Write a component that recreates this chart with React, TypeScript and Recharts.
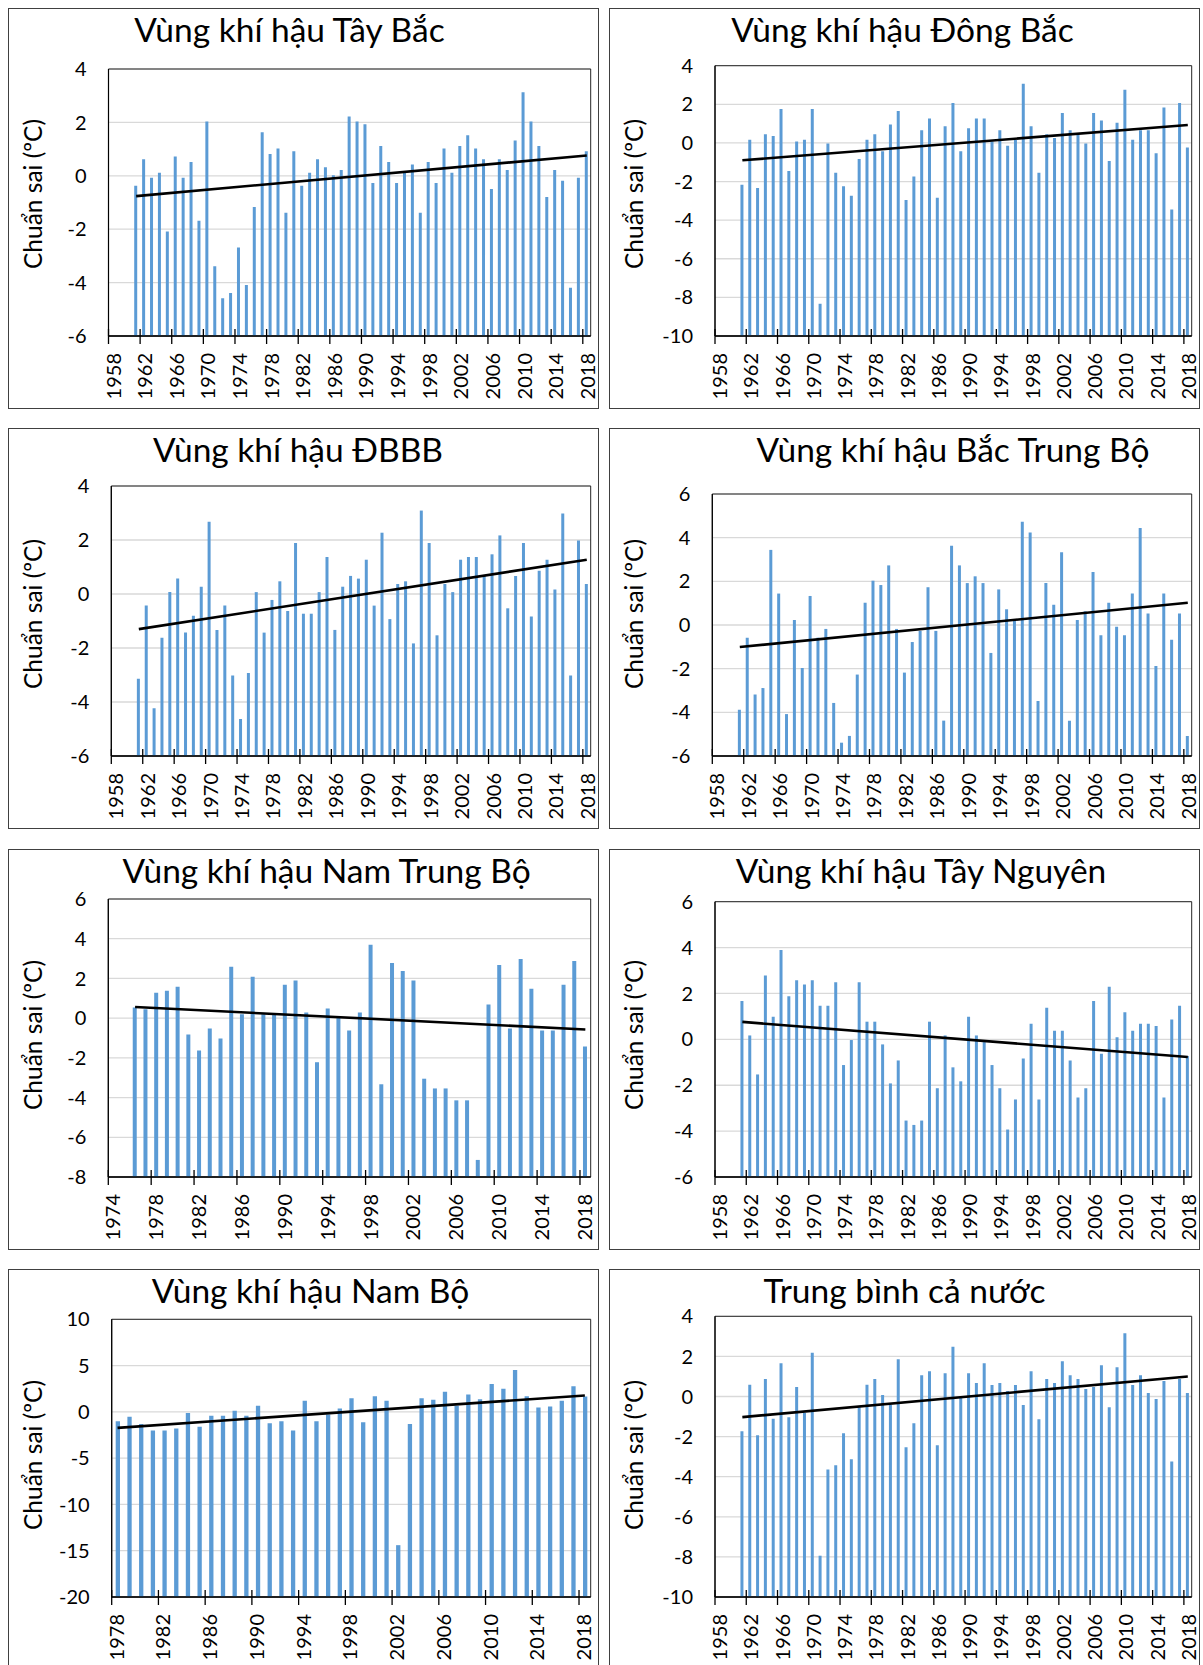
import React from "react";
import {
  ComposedChart,
  Bar,
  Line,
  XAxis,
  YAxis,
  CartesianGrid,
  ReferenceArea,
} from "recharts";

// years (categories)
const years1961 = [
  1961, 1962, 1963, 1964, 1965, 1966, 1967, 1968, 1969, 1970,
  1971, 1972, 1973, 1974, 1975, 1976, 1977, 1978, 1979, 1980,
  1981, 1982, 1983, 1984, 1985, 1986, 1987, 1988, 1989, 1990,
  1991, 1992, 1993, 1994, 1995, 1996, 1997, 1998, 1999, 2000,
  2001, 2002, 2003, 2004, 2005, 2006, 2007, 2008, 2009, 2010,
  2011, 2012, 2013, 2014, 2015, 2016, 2017, 2018,
];
const years1976 = years1961.slice(15);
const years1978 = years1961.slice(17);

// anomaly values (ºC)
const tayBac = [
  -0.37, 0.62, -0.07, 0.11, -2.09, 0.72, -0.07, 0.52, -1.68, 2.03,
  -3.39, -4.59, -4.39, -2.69, -4.09, -1.17, 1.63, 0.82, 1.02, -1.38,
  0.92, -0.37, 0.11, 0.62, 0.32, 0.02, 0.22, 2.22, 2.03, 1.93,
  -0.27, 1.12, 0.52, -0.27, 0.12, 0.42, -1.38, 0.52, -0.27, 1.02,
  0.11, 1.12, 1.52, 1.02, 0.62, -0.49, 0.62, 0.22, 1.32, 3.13,
  2.03, 1.12, -0.79, 0.22, -0.19, -4.19, -0.07, 0.92,
];
const dongBac = [
  -2.16, 0.16, -2.34, 0.45, 0.36, 1.76, -1.45, 0.07, 0.16, 1.76,
  -8.33, -0.03, -1.55, -2.24, -2.74, -0.83, 0.16, 0.45, -0.43, 0.95,
  1.66, -2.95, -1.74, 0.66, 1.26, -2.84, 0.86, 2.07, -0.43, 0.76,
  1.26, 1.26, 0.07, 0.66, -0.14, 0.16, 3.07, 0.86, -1.55, 0.45,
  0.26, 1.55, 0.66, 0.45, -0.03, 1.55, 1.16, -0.93, 1.05, 2.76,
  0.16, 0.66, 0.66, -0.53, 1.84, -3.45, 2.07, -0.24,
];
const dbbb = [
  -3.14, -0.43, -4.23, -1.62, 0.07, 0.57, -1.43, -0.81, 0.27, 2.68,
  -1.33, -0.43, -3.02, -4.63, -2.93, 0.07, -1.43, -0.22, 0.47, -0.63,
  1.89, -0.73, -0.73, 0.07, 1.37, -1.33, 0.27, 0.67, 0.57, 1.27,
  -0.43, 2.27, -0.93, 0.37, 0.47, -1.83, 3.09, 1.89, -1.53, 0.37,
  0.07, 1.27, 1.37, 1.37, 0.67, 1.47, 2.17, -0.53, 0.67, 1.89,
  -0.83, 0.86, 1.27, 0.17, 2.98, -3.02, 1.98, 0.37,
];
const bacTrungBo = [
  -3.88, -0.58, -3.18, -2.89, 3.44, 1.44, -4.08, 0.23, -1.97, 1.33,
  -0.58, -0.18, -3.57, -5.39, -5.08, -2.27, 1.02, 2.03, 1.83, 2.73,
  -0.18, -2.18, -0.78, -0.27, 1.73, -0.27, -4.38, 3.63, 2.73, 1.92,
  2.23, 1.92, -1.28, 1.63, 0.72, 0.23, 4.73, 4.24, -3.48, 1.92,
  0.93, 3.33, -4.38, 0.23, 0.63, 2.43, -0.47, 1.02, -0.08, -0.47,
  1.44, 4.44, 0.53, -1.88, 1.44, -0.67, 0.53, -5.08,
];
const namTrungBo = [
  0.54, 0.45, 1.28, 1.38, 1.58, -0.82, -1.63, -0.52, -1.03, 2.59,
  0.19, 2.09, 0.19, 0.19, 1.68, 1.89, 0.29, -2.22, 0.49, 0.02,
  -0.62, 0.29, 3.69, -3.33, 2.78, 2.37, 1.89, -3.05, -3.54, -3.54,
  -4.14, -4.14, -7.14, 0.69, 2.68, -0.52, 2.98, 1.48, -0.62, -0.62,
  1.68, 2.88, -1.43,
];
const tayNguyen = [
  1.67, 0.17, -1.53, 2.78, 0.98, 3.89, 1.88, 2.58, 2.39, 2.58,
  1.47, 1.47, 2.49, -1.12, -0.03, 2.49, 0.77, 0.77, -0.22, -1.92,
  -0.92, -3.54, -3.73, -3.54, 0.77, -2.13, 0.17, -1.22, -1.83, 0.98,
  0.17, -0.12, -1.12, -2.13, -3.93, -2.62, -0.83, 0.68, -2.62, 1.38,
  0.38, 0.38, -0.92, -2.53, -2.13, 1.67, -0.63, 2.29, 0.09, 1.18,
  0.38, 0.68, 0.68, 0.58, -2.53, 0.87, 1.47, -0.73,
];
const namBo = [
  -1.01, -0.54, -1.3, -2.02, -2.02, -1.81, -0.11, -1.62, -0.43, -0.43,
  0.11, -0.43, 0.65, -1.23, -1.01, -2.02, 1.19, -1.01, -0.29, 0.36,
  1.48, -1.12, 1.7, 1.19, -14.4, -1.3, 1.48, 1.3, 2.17, 0.65,
  1.88, 1.37, 3.0, 2.49, 4.51, 1.7, 0.47, 0.58, 1.19, 2.78,
  1.66,
];
const caNuoc = [
  -1.73, 0.58, -1.93, 0.87, -1.11, 1.66, -1.03, 0.47, -0.82, 2.18,
  -7.94, -3.64, -3.43, -1.83, -3.13, -0.53, 0.58, 0.87, 0.07, -0.43,
  1.86, -2.53, -1.33, 1.06, 1.26, -2.43, 1.16, 2.48, -0.03, 1.16,
  0.67, 1.66, 0.57, 0.67, 0.27, 0.57, -0.43, 1.26, -1.13, 0.87,
  0.67, 1.76, 1.06, 0.87, 0.37, 0.47, 1.56, -0.53, 1.46, 3.16,
  0.57, 1.06, 0.17, -0.13, 0.77, -3.24, 0.87, 0.17,
];

// linear trend, value at first and last year
const trendTayBac = [-0.76, 0.76];
const trendDongBac = [-0.9, 0.93];
const trendDbbb = [-1.3, 1.27];
const trendBacTrungBo = [-1.01, 1.02];
const trendNamTrungBo = [0.56, -0.57];
const trendTayNguyen = [0.76, -0.77];
const trendNamBo = [-1.73, 1.77];
const trendCaNuoc = [-1.03, 1.0];

// tick labels
const xTicks1958 = [1958, 1962, 1966, 1970, 1974, 1978, 1982, 1986, 1990, 1994, 1998, 2002, 2006, 2010, 2014, 2018];
const xTicks1974 = [1974, 1978, 1982, 1986, 1990, 1994, 1998, 2002, 2006, 2010, 2014, 2018];
const xTicks1978 = [1978, 1982, 1986, 1990, 1994, 1998, 2002, 2006, 2010, 2014, 2018];
const yTicks6to4 = [-6, -4, -2, 0, 2, 4];
const yTicks10to4 = [-10, -8, -6, -4, -2, 0, 2, 4];
const yTicks6to6 = [-6, -4, -2, 0, 2, 4, 6];
const yTicks8to6 = [-8, -6, -4, -2, 0, 2, 4, 6];
const yTicks20to10 = [-20, -15, -10, -5, 0, 5, 10];

const FONT = "Lato, 'Open Sans', sans-serif";
const W = 591;
const H = 401;
const PLOT_RIGHT = 582.7;
const PLOT_BOTTOM = 328;

const XTick = (props: any) => {
  const { x, y, payload } = props;
  const tx = x + 4;
  const ty = y + 17;
  return (
    <g>
      <line x1={x} x2={x} y1={y - 7} y2={y + 8} stroke="#000" strokeWidth={1.3} />
      <text
        x={tx}
        y={ty}
        transform={`rotate(-90 ${tx} ${ty})`}
        textAnchor="end"
        dominantBaseline="central"
        fontSize={20}
        fontFamily={FONT}
        fill="#000"
      >
        {payload.value}
      </text>
    </g>
  );
};

interface PanelProps {
  left: number;
  top: number;
  title: string;
  titleX: number;
  years: number[];
  values: number[];
  trend: number[];
  xTicks: number[];
  yTicks: number[];
  plotLeft: number;
  plotTop: number;
  barSize: number;
}

const Panel: React.FC<PanelProps> = ({
  left,
  top,
  title,
  titleX,
  years,
  values,
  trend,
  xTicks,
  yTicks,
  plotLeft,
  plotTop,
  barSize,
}) => {
  const yMin = yTicks[0];
  const yMax = yTicks[yTicks.length - 1];
  const xMin = xTicks[0];
  const xMax = 2019;
  const data = years.map((year, i) => ({
    x: year + 0.5,
    bar: [yMin, values[i]],
    trend: i === 0 ? trend[0] : i === years.length - 1 ? trend[1] : null,
  }));

  return (
    <div style={{ position: "absolute", left, top, width: W, height: H, background: "#fff" }}>
      <ComposedChart
        width={W}
        height={H}
        data={data}
        margin={{ top: plotTop, right: W - PLOT_RIGHT, bottom: 0, left: 0 }}
      >
        <CartesianGrid horizontal vertical={false} stroke="#d9d9d9" strokeWidth={1.3} />
        <XAxis
          dataKey="x"
          type="number"
          domain={[xMin, xMax]}
          ticks={xTicks}
          interval={0}
          height={H - PLOT_BOTTOM}
          tick={(p: any) => <XTick {...p} />}
          tickLine={false}
          tickSize={0}
          tickMargin={0}
          axisLine={{ stroke: "#000", strokeWidth: 1.5 }}
          allowDataOverflow
        />
        <YAxis
          type="number"
          domain={[yMin, yMax]}
          ticks={yTicks}
          interval={0}
          width={plotLeft}
          tickLine={false}
          tickSize={0}
          tickMargin={22}
          axisLine={{ stroke: "#000", strokeWidth: 1.2 }}
          tick={{ fill: "#000", fontSize: 20, fontFamily: FONT }}
          allowDataOverflow
        />
        <ReferenceArea
          x1={xMin}
          x2={xMax}
          y1={yMin}
          y2={yMax}
          fill="none"
          stroke="#262626"
          strokeWidth={1}
          ifOverflow="visible"
        />
        <Bar dataKey="bar" fill="#5b9bd5" barSize={barSize} isAnimationActive={false} />
        <Line
          dataKey="trend"
          type="linear"
          stroke="#000"
          strokeWidth={2.6}
          dot={false}
          activeDot={false}
          connectNulls
          isAnimationActive={false}
        />
      </ComposedChart>
      <div
        style={{
          position: "absolute",
          left: titleX,
          top: 22,
          transform: "translate(-50%, -50%)",
          whiteSpace: "nowrap",
          fontFamily: FONT,
          fontSize: 33.5,
          lineHeight: 1,
          color: "#000",
        }}
      >
        {title}
      </div>
      <div
        style={{
          position: "absolute",
          left: 24.5,
          top: 186,
          transform: "translate(-50%, -50%) rotate(-90deg)",
          whiteSpace: "nowrap",
          fontFamily: FONT,
          fontSize: 24.5,
          lineHeight: 1,
          color: "#000",
        }}
      >
        Chuẩn sai (ºC)
      </div>
      <div
        style={{
          position: "absolute",
          inset: 0,
          border: "1px solid #404040",
          boxSizing: "border-box",
          pointerEvents: "none",
        }}
      />
    </div>
  );
};

const COL1 = 8;
const COL2 = 609;
const ROW1 = 8;
const ROW2 = 428;
const ROW3 = 849;
const ROW4 = 1269;

export default function App() {
  return (
    <div
      style={{
        position: "absolute",
        left: 0,
        top: 0,
        width: 1203,
        height: 1665,
        overflow: "hidden",
        background: "#fff",
      }}
    >
      <Panel left={COL1} top={ROW1} title="Vùng khí hậu Tây Bắc" titleX={281.5}
        years={years1961} values={tayBac} trend={trendTayBac} xTicks={xTicks1958}
        yTicks={yTicks6to4} plotLeft={100.5} plotTop={61} barSize={3} />
      <Panel left={COL2} top={ROW1} title="Vùng khí hậu Đông Bắc" titleX={293.5}
        years={years1961} values={dongBac} trend={trendDongBac} xTicks={xTicks1958}
        yTicks={yTicks10to4} plotLeft={106} plotTop={57.7} barSize={3} />
      <Panel left={COL1} top={ROW2} title="Vùng khí hậu ĐBBB" titleX={290}
        years={years1961} values={dbbb} trend={trendDbbb} xTicks={xTicks1958}
        yTicks={yTicks6to4} plotLeft={103.3} plotTop={58} barSize={3} />
      <Panel left={COL2} top={ROW2} title="Vùng khí hậu Bắc Trung Bộ" titleX={344}
        years={years1961} values={bacTrungBo} trend={trendBacTrungBo} xTicks={xTicks1958}
        yTicks={yTicks6to6} plotLeft={103.3} plotTop={66} barSize={3} />
      <Panel left={COL1} top={ROW3} title="Vùng khí hậu Nam Trung Bộ" titleX={318.6}
        years={years1976} values={namTrungBo} trend={trendNamTrungBo} xTicks={xTicks1974}
        yTicks={yTicks8to6} plotLeft={100.3} plotTop={50} barSize={4} />
      <Panel left={COL2} top={ROW3} title="Vùng khí hậu Tây Nguyên" titleX={312}
        years={years1961} values={tayNguyen} trend={trendTayNguyen} xTicks={xTicks1958}
        yTicks={yTicks6to6} plotLeft={106} plotTop={52.7} barSize={3} />
      <Panel left={COL1} top={ROW4} title="Vùng khí hậu Nam Bộ" titleX={302.5}
        years={years1978} values={namBo} trend={trendNamBo} xTicks={xTicks1978}
        yTicks={yTicks20to10} plotLeft={103.7} plotTop={50.3} barSize={4.3} />
      <Panel left={COL2} top={ROW4} title="Trung bình cả nước" titleX={295.5}
        years={years1961} values={caNuoc} trend={trendCaNuoc} xTicks={xTicks1958}
        yTicks={yTicks10to4} plotLeft={106} plotTop={47.3} barSize={3} />
    </div>
  );
}
